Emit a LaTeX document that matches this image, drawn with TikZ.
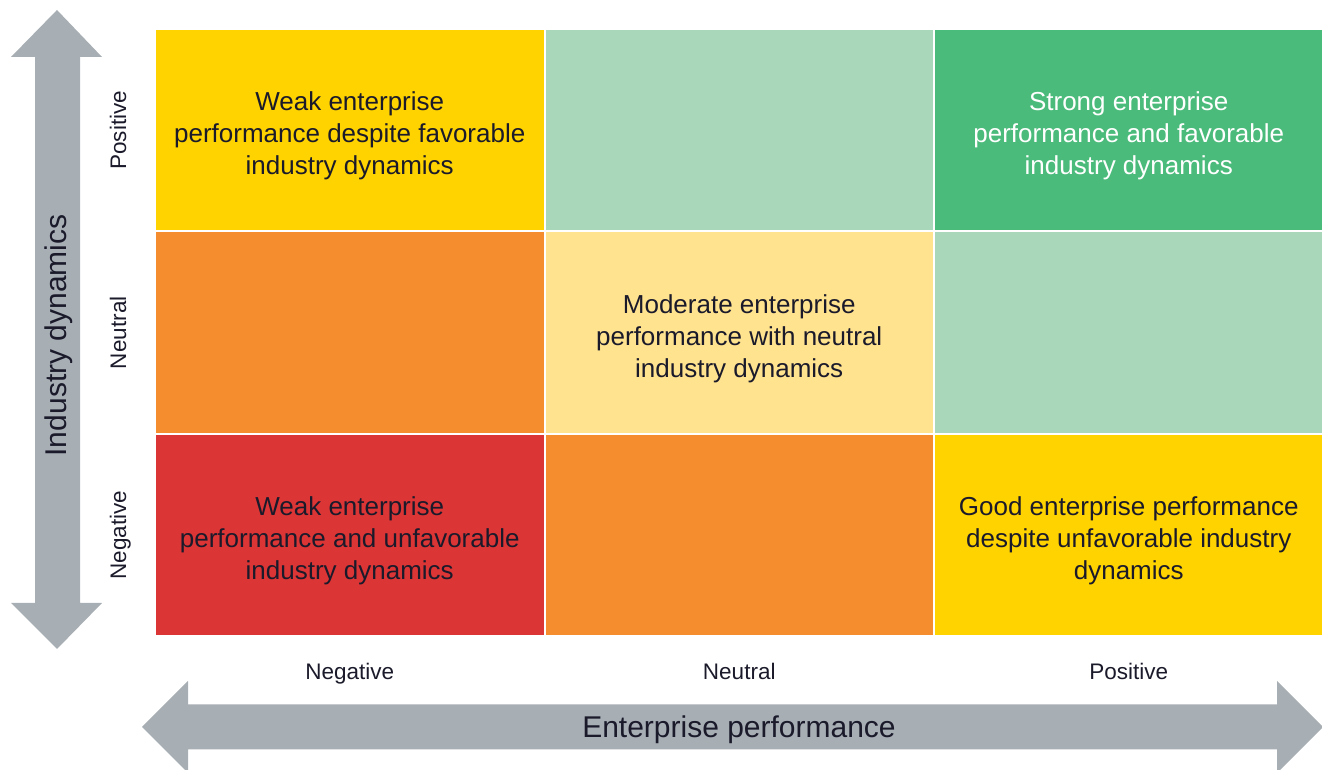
\documentclass[tikz,border=0pt]{standalone}
\usepackage{fontspec}
\setmainfont{Liberation Sans}
\usepackage{tikz}
\usetikzlibrary{positioning}

\definecolor{eyyellow}{HTML}{FFD300}
\definecolor{eylightgreen}{HTML}{A8D8B9}
\definecolor{eygreen}{HTML}{4BBB7B}
\definecolor{eyorange}{HTML}{F58C2E}
\definecolor{eypaleyellow}{HTML}{FFE38F}
\definecolor{eyred}{HTML}{DC3535}
\definecolor{eygrey}{HTML}{A7AEB4}
\definecolor{eynavy}{HTML}{1A1A2B}

\begin{document}
\begin{tikzpicture}[x=1pt, y=1pt, node distance=2pt]
\tikzstyle{cell}=[rectangle, draw=none, inner sep=0pt, outer sep=0pt, minimum width=387.5pt, minimum height=200.5pt]
\tikzstyle{celltext}=[align=center, text=eynavy, yshift=-6pt, font=\fontsize{26}{32}\selectfont]
\tikzstyle{level}=[text=eynavy, text height=17pt, text depth=5pt, font=\fontsize{22.5}{27}\selectfont]
\tikzstyle{axis}=[text=eynavy, text height=22pt, text depth=6pt, font=\fontsize{30}{36}\selectfont]
\useasboundingbox (0,0) rectangle (1322,770);

\fill[eygrey] (57,760) -- (102,713) -- (80,713) -- (80,167) -- (102,167) -- (57,121) -- (11,167) -- (35,167) -- (35,713) -- (11,713) -- cycle;
\fill[eygrey] (142,43) -- (188,89) -- (188,65.5) -- (1277,65.5) -- (1277,89) -- (1323,43) -- (1277,-3) -- (1277,20.5) -- (188,20.5) -- (188,-3) -- cycle;

\node[cell, fill=eyyellow, label={[celltext]center:Weak enterprise\\performance despite favorable\\industry dynamics}]   		(A) at (349.75,639.75)   {};
\node[cell, fill=eylightgreen]    	(B)[right=of A]   {};
\node[cell, fill=eygreen, label={[celltext, text=white]center:Strong enterprise\\performance and favorable\\industry dynamics}]  	(C)[right=of B]   {};

\node[cell, fill=eyorange]    		(D)[below=of A]   {};
\node[cell, fill=eypaleyellow, label={[celltext]center:Moderate enterprise\\performance with neutral\\industry dynamics}]    	(E)[right=of D]   {};
\node[cell, fill=eylightgreen]    	(F)[right=of E]   {};

\node[cell, fill=eyred, label={[celltext]center:Weak enterprise\\performance and unfavorable\\industry dynamics}]    		(G)[below=of D]   {};
\node[cell, fill=eyorange]    		(H)[right=of G]   {};
\node[cell, fill=eyyellow, label={[celltext]center:Good enterprise performance\\despite unfavorable industry\\dynamics}]    		(I)[right=of H]   {};

\node[level, rotate=90]    (rp) at ([xshift=-36pt]A.west)   {Positive};
\node[level, rotate=90]    (rz) at ([xshift=-36pt]D.west)   {Neutral};
\node[level, rotate=90]    (rn) at ([xshift=-36pt]G.west)   {Negative};

\node[level]    (cn) at ([yshift=-38.5pt]G.south)   {Negative};
\node[level]    (cz) at ([yshift=-38.5pt]H.south)   {Neutral};
\node[level]    (cp) at ([yshift=-38.5pt]I.south)   {Positive};

\node[axis, rotate=90]    (ind) at (58.5,434.5)   {Industry dynamics};
\node[axis]    (ent) at (739,40)   {Enterprise performance};

\end{tikzpicture}
\end{document}
